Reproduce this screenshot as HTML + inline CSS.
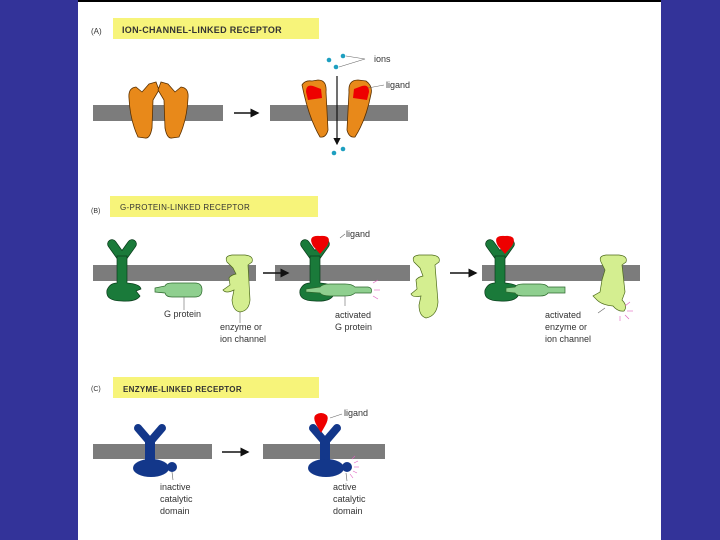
<!DOCTYPE html>
<html><head><style>
html,body{margin:0;padding:0;width:720px;height:540px;overflow:hidden;background:#333399}
svg{position:absolute;left:0;top:0}
text{font-family:"Liberation Sans",sans-serif;fill:#333}
</style></head><body>
<svg width="720" height="540" viewBox="0 0 720 540">
<rect x="78" y="0" width="583" height="540" fill="#fff"/>
<rect x="78" y="0" width="583" height="2" fill="#000"/>
<defs>
<marker id="ah" markerWidth="6" markerHeight="6" refX="5" refY="3" orient="auto"><path d="M0,0 L6,3 L0,6z" fill="#111"/></marker>
</defs>
<!-- A -->
<text x="91" y="34" font-size="8">(A)</text>
<rect x="113" y="18" width="206" height="21" fill="#f7f47a"/>
<text x="122" y="33" font-size="9" font-weight="bold" letter-spacing="0.3">ION-CHANNEL-LINKED  RECEPTOR</text>
<rect x="93" y="105" width="130" height="16" fill="#7c7c7c"/>
<rect x="270" y="105" width="138" height="16" fill="#7c7c7c"/>
<path d="M129,98 Q128,88 136,87 L142,92 L149,84 L156,82 L159,90 L153,100 L152,128 Q150,139 145,138 L138,137 Q130,120 129,98z" fill="#e8891a" stroke="#5a3000" stroke-width="0.8"/>
<path d="M188,98 Q189,88 181,87 L175,92 L168,84 L161,82 L158,90 L164,100 L165,128 Q167,139 172,138 L179,137 Q187,120 188,98z" fill="#e8891a" stroke="#5a3000" stroke-width="0.8"/>
<path d="M304,94 L302,85 Q305,80 312,81 L318,80 Q327,80 326,92 L328,130 Q326,138 320,137 Q310,120 304,94z" fill="#e8891a" stroke="#5a3000" stroke-width="0.8"/>
<path d="M306,92 Q306,84 313,86 L321,89 L322,98 L308,100z" fill="#e00"/>
<path d="M371,94 Q373,86 366,81 L358,80 Q348,80 349,92 L347,130 Q349,138 355,137 Q366,120 371,94z" fill="#e8891a" stroke="#5a3000" stroke-width="0.8"/>
<path d="M369,92 Q369,84 362,86 L354,89 L353,98 L367,100z" fill="#e00"/>
<line x1="234" y1="113" x2="258" y2="113" stroke="#111" stroke-width="1.5" marker-end="url(#ah)"/>
<line x1="337" y1="76" x2="337" y2="144" stroke="#111" stroke-width="1.2" marker-end="url(#ah)"/>
<g fill="#1e9fc0"><circle cx="329" cy="60" r="2.3"/><circle cx="343" cy="56" r="2.3"/><circle cx="336" cy="67" r="2.3"/><circle cx="334" cy="153" r="2.3"/><circle cx="343" cy="149" r="2.3"/></g>
<path d="M346,56 L365,59 L339,67" fill="none" stroke="#666" stroke-width="0.6"/>
<text x="374" y="62" font-size="9">ions</text>
<line x1="368" y1="88" x2="384" y2="85" stroke="#666" stroke-width="0.6"/>
<text x="386" y="88" font-size="9">ligand</text>
<!-- B -->
<text x="91" y="213" font-size="7">(B)</text>
<rect x="110" y="196" width="208" height="21" fill="#f7f47a"/>
<text x="120" y="210" font-size="8" letter-spacing="0.3">G-PROTEIN-LINKED  RECEPTOR</text>
<rect x="93" y="265" width="163" height="16" fill="#7c7c7c"/>
<rect x="275" y="265" width="135" height="16" fill="#7c7c7c"/>
<rect x="482" y="265" width="158" height="16" fill="#7c7c7c"/>
<line x1="263" y1="273" x2="288" y2="273" stroke="#111" stroke-width="1.5" marker-end="url(#ah)"/>
<line x1="450" y1="273" x2="476" y2="273" stroke="#111" stroke-width="1.5" marker-end="url(#ah)"/>
<g id="gr">
<path d="M112,244 L122,258 L132,244" fill="none" stroke="#0b3d1c" stroke-width="9.5" stroke-linecap="round" stroke-linejoin="round"/>
<path d="M112,244 L122,258 L132,244" fill="none" stroke="#1a7a3a" stroke-width="8" stroke-linecap="round" stroke-linejoin="round"/>
<path d="M117,256 L127,256 L127,283 Q140,284 141,289 L136,291 L140,296 Q136,302 122,301 Q105,301 107,290 Q110,283 117,283z" fill="#1a7a3a" stroke="#0b3d1c" stroke-width="0.7"/>
</g>
<use href="#gr" x="193"/>
<use href="#gr" x="378"/>
<path d="M313,246 Q307,235 320,236 Q333,235 327,246 L320,254z" fill="#e00"/>
<path d="M498,246 Q492,235 505,236 Q518,235 512,246 L505,254z" fill="#e00"/>
<g fill="#8fcf8f" stroke="#2d6a2d" stroke-width="0.7">
<path d="M155,288 L165,286 Q166,283 172,283 L195,283 Q202,283 202,290 Q202,297 195,297 L172,297 Q166,297 165,293 L155,292z"/>
<path d="M306,289 L320,287 Q322,284 330,284 L345,284 Q352,284 355,287 L368,287 Q373,288 371,293 L355,293 Q352,296 345,296 L330,296 Q322,296 320,293 L306,292z"/>
<path d="M506,288 L515,287 Q517,284 523,284 L540,284 Q546,284 548,287 L565,287 L565,293 L548,293 Q546,296 540,296 L523,296 Q517,296 515,293 L506,292z"/>
</g>
<g fill="#d4ee90" stroke="#4d6b1a" stroke-width="0.7">
<path d="M227,262 Q224,256 232,255 L245,255 Q254,256 252,262 L248,265 L250,300 Q249,311 240,312 Q233,311 232,300 L234,290 Q226,294 223,290 L230,285 L229,278 Q231,275 236,274 L233,268z"/>
<path d="M414,262 Q411,256 419,255 L432,255 Q441,256 439,262 L435,265 L438,302 Q437,316 426,318 Q419,316 419,305 L421,296 Q413,298 411,294 L417,289 L416,280 Q418,277 423,276 L420,268z"/>
<path d="M601,262 Q598,256 606,255 L619,255 Q628,256 626,262 L622,265 L625,292 L622,300 Q628,306 624,311 Q618,312 613,306 Q602,305 597,300 L593,296 L600,292 L602,280 L605,270z"/>
</g>
<g stroke="#e060c0" stroke-width="0.6">
<line x1="373" y1="283" x2="378" y2="280"/><line x1="374" y1="290" x2="380" y2="290"/><line x1="373" y1="296" x2="378" y2="299"/>
<line x1="625" y1="306" x2="630" y2="302"/><line x1="627" y1="311" x2="633" y2="311"/><line x1="625" y1="315" x2="629" y2="319"/><line x1="620" y1="316" x2="620" y2="321"/>
</g>
<g stroke="#666" stroke-width="0.6">
<line x1="184" y1="297" x2="184" y2="310"/><line x1="240" y1="312" x2="240" y2="323"/><line x1="345" y1="296" x2="345" y2="306"/><line x1="340" y1="238" x2="345" y2="234"/><line x1="605" y1="308" x2="598" y2="313"/>
</g>
<g font-size="9">
<text x="164" y="317">G protein</text>
<text x="220" y="330">enzyme or</text>
<text x="220" y="342">ion channel</text>
<text x="346" y="237">ligand</text>
<text x="335" y="318">activated</text>
<text x="335" y="330">G protein</text>
<text x="545" y="318">activated</text>
<text x="545" y="330">enzyme or</text>
<text x="545" y="342">ion channel</text>
</g>
<!-- C -->
<text x="91" y="391" font-size="7">(C)</text>
<rect x="113" y="377" width="206" height="21" fill="#f7f47a"/>
<text x="123" y="392" font-size="8" font-weight="bold" letter-spacing="0.3">ENZYME-LINKED  RECEPTOR</text>
<rect x="93" y="444" width="119" height="15" fill="#7c7c7c"/>
<rect x="263" y="444" width="122" height="15" fill="#7c7c7c"/>
<line x1="222" y1="452" x2="248" y2="452" stroke="#111" stroke-width="1.5" marker-end="url(#ah)"/>
<g id="er">
<path d="M138,428 L150,442 L162,428" fill="none" stroke="#13378a" stroke-width="8" stroke-linecap="round" stroke-linejoin="round"/>
<rect x="145" y="440" width="10" height="22" fill="#13378a"/>
<ellipse cx="151" cy="468" rx="18" ry="9" fill="#13378a"/>
<circle cx="172" cy="467" r="5" fill="#13378a"/>
</g>
<use href="#er" x="175"/>
<path d="M317,426 Q310,414 321,413 Q332,414 325,426 L321,433z" fill="#e00"/>
<g stroke="#e060c0" stroke-width="0.6">
<line x1="352" y1="459" x2="355" y2="456"/><line x1="354" y1="463" x2="358" y2="461"/><line x1="354" y1="467" x2="359" y2="467"/><line x1="353" y1="471" x2="357" y2="473"/><line x1="350" y1="474" x2="353" y2="478"/>
</g>
<g stroke="#666" stroke-width="0.6"><line x1="172" y1="472" x2="173" y2="480"/><line x1="346" y1="473" x2="347" y2="481"/><line x1="330" y1="418" x2="342" y2="414"/></g>
<g font-size="9">
<text x="160" y="490">inactive</text><text x="160" y="502">catalytic</text><text x="160" y="514">domain</text>
<text x="333" y="490">active</text><text x="333" y="502">catalytic</text><text x="333" y="514">domain</text>
<text x="344" y="416">ligand</text>
</g>
</svg>
</body></html>
